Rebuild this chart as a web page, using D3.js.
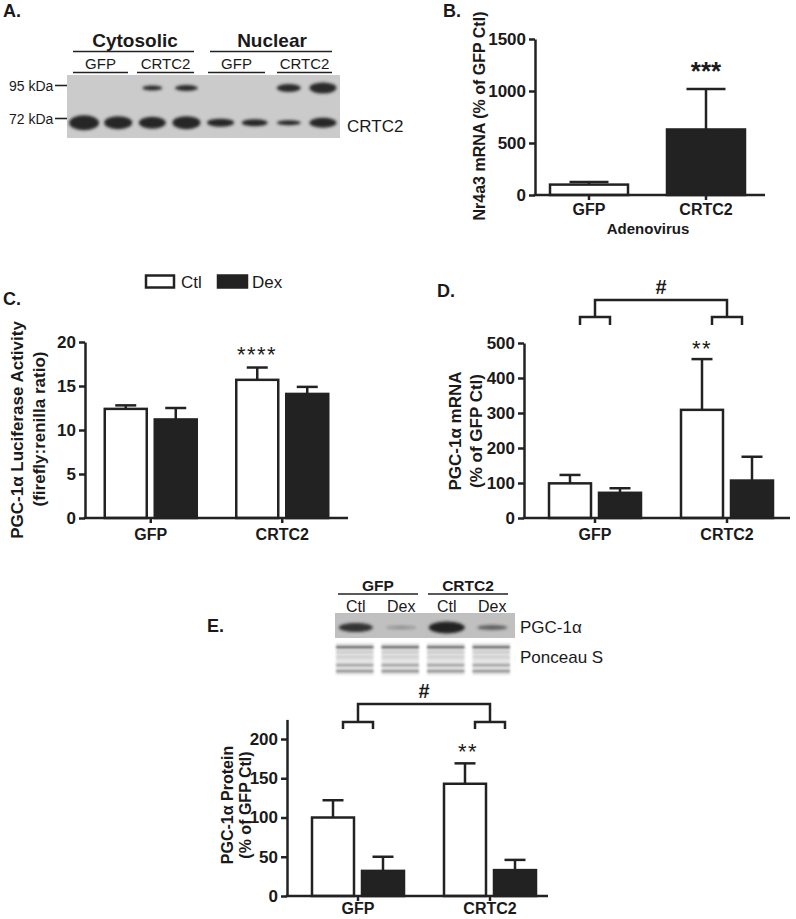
<!DOCTYPE html>
<html><head><meta charset="utf-8">
<script src="https://cdn.jsdelivr.net/npm/d3@7"></script>
<style>body{margin:0;background:#fff}svg{display:block}text{font-family:"Liberation Sans",Arial,sans-serif;fill:#1a1a1a}</style>
</head><body><svg id="c" width="796" height="919"></svg>
<script>
// ---------- data ----------
const groups = ["GFP", "CRTC2"];
const treatments = ["Ctl", "Dex"];
// Panel B: Nr4a3 mRNA (% of GFP Ctl)
const nr4a3Mean = [100, 630];
const nr4a3Sem = [25, 390];
const ticksB = [0, 500, 1000, 1500];
// Panel C: PGC-1a luciferase activity
const lucCtl = [12.4, 15.7], lucCtlSem = [0.4, 1.4];
const lucDex = [11.2, 14.1], lucDexSem = [1.3, 0.8];
const ticksC = [0, 5, 10, 15, 20];
// Panel D: PGC-1a mRNA
const mrnaCtl = [99, 309], mrnaCtlSem = [24, 145];
const mrnaDex = [72, 107], mrnaDexSem = [13, 68];
const ticksD = [0, 100, 200, 300, 400, 500];
// Panel E: PGC-1a protein
const protCtl = [100, 143], protCtlSem = [22, 26];
const protDex = [32, 33], protDexSem = [18, 13];
const ticksE = [0, 50, 100, 150, 200];
// Blot A (8 lanes): band thickness at 72 kDa and 95 kDa
const blotALanes = d3.range(8);
const band72 = [15, 13, 12, 13, 8, 7, 5, 10];
const band72w = [30, 28, 27, 28, 27, 26, 24, 27];
const band95 = [0, 0, 5, 6, 0, 0, 8, 11];
const band95w = [0, 0, 20, 23, 0, 0, 24, 27];
// Blot E (4 lanes)
const blotELanes = ["GFP Ctl", "GFP Dex", "CRTC2 Ctl", "CRTC2 Dex"];
const pgcBand = [9, 3, 12, 5];
const pgcBandW = [34, 30, 36, 30];
const pgcBandDark = [0.9, 0.35, 1, 0.6];
const ponceauRows = [5, 10, 15, 23, 29];
const ponceauDark = [0.8, 0.15, 0.12, 0.4, 0.5];

// ---------- setup ----------
const svg = d3.select("#c");
const INK = "#222";
const defs = svg.append("defs");
defs.append("filter").attr("id", "blur").attr("x", "-50%").attr("y", "-100%").attr("width", "200%").attr("height", "300%")
  .append("feGaussianBlur").attr("stdDeviation", 1.4);
defs.append("filter").attr("id", "blur2").attr("x", "-20%").attr("y", "-20%").attr("width", "140%").attr("height", "140%")
  .append("feGaussianBlur").attr("stdDeviation", 1.1);

function txt(x, y, s, size, opts = {}) {
  const t = svg.append("text").attr("x", x).attr("y", y).text(s)
    .attr("font-size", size).attr("font-weight", opts.bold ? "bold" : "normal")
    .attr("text-anchor", opts.anchor || "start");
  if (opts.ls) t.attr("letter-spacing", opts.ls);
  return t;
}
function line(x1, y1, x2, y2, w = 2.5) {
  svg.append("line").attr("x1", x1).attr("y1", y1).attr("x2", x2).attr("y2", y2)
    .attr("stroke", INK).attr("stroke-width", w);
}
function rotLabel(x, y, s, size) {
  svg.append("text").attr("transform", `translate(${x},${y}) rotate(-90)`)
    .attr("text-anchor", "middle").attr("font-size", size).attr("font-weight", "bold").text(s);
}

function yAxis(x0, yScale, ticks) {
  const g = svg.append("g").attr("transform", `translate(${x0},0)`)
    .call(d3.axisLeft(yScale).tickValues(ticks).tickFormat(d3.format("d")).tickSize(6).tickSizeOuter(0).tickPadding(3));
  g.select(".domain").attr("stroke", INK).attr("stroke-width", 2.5);
  g.selectAll(".tick line").attr("stroke", INK).attr("stroke-width", 2.5);
  g.selectAll(".tick text").attr("font-size", 17).attr("font-weight", "bold")
    .attr("font-family", '"Liberation Sans",Arial,sans-serif').attr("fill", "#1a1a1a");
}
function xAxis(x0, x1, y0, xScale, labelY) {
  line(x0 - 1.2, y0, x1, y0);
  groups.forEach(gname => {
    const cx = xScale(gname) + xScale.bandwidth() / 2;
    line(cx, y0, cx, y0 + 5);
    txt(cx, labelY, gname, 16, { bold: true, anchor: "middle" });
  });
}
function bar(x, w, yTop, yBase, filled) {
  svg.append("rect").attr("x", x).attr("y", yTop).attr("width", w).attr("height", yBase - yTop)
    .attr("fill", filled ? INK : "#fff").attr("stroke", INK).attr("stroke-width", 2.5);
}
function errBar(cx, yTop, yErr, capW) {
  line(cx, yTop, cx, yErr);
  line(cx - capW / 2, yErr, cx + capW / 2, yErr);
}

// ---------- Panel A: blot ----------
txt(3, 17, "A.", 18, { bold: true });
txt(135, 47, "Cytosolic", 19, { bold: true, anchor: "middle" });
txt(272, 47, "Nuclear", 19, { bold: true, anchor: "middle" });
line(73, 51.5, 194, 51.5, 1.6); line(210, 51.5, 332, 51.5, 1.6);
[["GFP", 73, 128], ["CRTC2", 137, 194], ["GFP", 208, 265], ["CRTC2", 277, 332]].forEach(d => {
  txt((d[1] + d[2]) / 2, 69, d[0], 15, { anchor: "middle" });
  line(d[1], 72.5, d[2], 72.5, 1.6);
});
const xA = d3.scaleBand().domain(blotALanes).range([67, 340]);
svg.append("rect").attr("x", 67).attr("y", 75).attr("width", 273).attr("height", 63).attr("fill", "#cbcbcb");
const gA = svg.append("g").attr("filter", "url(#blur)");
blotALanes.forEach(i => {
  const cx = xA(i) + xA.bandwidth() / 2;
  gA.append("ellipse").attr("cx", cx).attr("cy", 122.7).attr("rx", band72w[i] / 2).attr("ry", band72[i] / 2).attr("fill", "#262626");
  if (band95[i] > 0) gA.append("ellipse").attr("cx", cx).attr("cy", 88).attr("rx", band95w[i] / 2).attr("ry", band95[i] / 2).attr("fill", "#2a2a2a");
});
line(55, 85.5, 67, 85.5, 1.6); line(55, 118.5, 67, 118.5, 1.6);
txt(9, 91, "95 kDa", 14); txt(9, 124, "72 kDa", 14);
txt(347, 132, "CRTC2", 17);

// ---------- Panel B ----------
txt(443, 17, "B.", 18, { bold: true });
const yB = d3.scaleLinear().domain([0, 1500]).range([195, 39]);
const xB = d3.scaleBand().domain(groups).range([530.5, 764.5]).paddingInner(1 / 3).paddingOuter(1 / 6);
groups.forEach((gname, i) => {
  const x = xB(gname), w = xB.bandwidth();
  bar(x, w, yB(nr4a3Mean[i]), yB(0), i === 1);
  errBar(x + w / 2, yB(nr4a3Mean[i]), yB(nr4a3Mean[i] + nr4a3Sem[i]), w / 2);
});
yAxis(535, yB, ticksB);
xAxis(535, 765, 195, xB, 215);
txt(648, 234, "Adenovirus", 15, { bold: true, anchor: "middle" });
rotLabel(485, 116, "Nr4a3 mRNA (% of GFP Ctl)", 16);
txt(706, 80, "***", 26, { bold: true, anchor: "middle" });

// ---------- grouped panels ----------
function grouped(cfg) {
  const y = d3.scaleLinear().domain([0, cfg.ymax]).range([cfg.y0, cfg.yTop]);
  const x = d3.scaleBand().domain(groups).range(cfg.xr);
  const series = [[cfg.ctl, cfg.ctlSem], [cfg.dex, cfg.dexSem]];
  groups.forEach((gname, gi) => {
    const c = x(gname) + x.bandwidth() / 2;
    const inner = d3.scaleBand().domain(treatments).range([c - 46, c + 46]).paddingInner(0.16);
    treatments.forEach((t, ti) => {
      const v = series[ti][0][gi], s = series[ti][1][gi];
      const bx = inner(t), bw = inner.bandwidth();
      bar(bx, bw, y(v), y(0), ti === 1);
      errBar(bx + bw / 2, y(v), y(v + s), bw / 2);
    });
  });
  yAxis(cfg.x0, y, cfg.ticks);
  xAxis(cfg.x0, cfg.x1, cfg.y0, x, cfg.labelY);
  return { x, y };
}
function brackets(x, yTopLine, yMid, yLow, hashY) {
  const cs = groups.map(g => x(g) + x.bandwidth() / 2);
  svg.append("path").attr("d", `M${cs[0]},${yMid}V${yTopLine}H${cs[1]}V${yMid}`)
    .attr("fill", "none").attr("stroke", INK).attr("stroke-width", 2.5);
  cs.forEach(c => svg.append("path").attr("d", `M${c - 15},${yLow}V${yMid}H${c + 15}V${yLow}`)
    .attr("fill", "none").attr("stroke", INK).attr("stroke-width", 2.5));
  txt((cs[0] + cs[1]) / 2, hashY, "#", 20, { bold: true, anchor: "middle" });
}

// Panel C
txt(3, 305, "C.", 18, { bold: true });
svg.append("rect").attr("x", 146).attr("y", 275.5).attr("width", 28).attr("height", 12).attr("fill", "#fff").attr("stroke", INK).attr("stroke-width", 2.5);
svg.append("rect").attr("x", 218).attr("y", 275.5).attr("width", 29).attr("height", 12).attr("fill", INK).attr("stroke", INK).attr("stroke-width", 2.5);
txt(181, 288, "Ctl", 17); txt(252, 288, "Dex", 17);
grouped({ x0: 85, x1: 348, xr: [85, 348], y0: 518, yTop: 342, ymax: 20, ticks: ticksC,
  ctl: lucCtl, ctlSem: lucCtlSem, dex: lucDex, dexSem: lucDexSem, labelY: 540 });
rotLabel(23, 430, "PGC-1α Luciferase Activity", 17);
rotLabel(45, 429, "(firefly:renilla ratio)", 17);
txt(257, 362, "****", 22, { anchor: "middle", ls: 1.5 });

// Panel D
txt(437, 297, "D.", 18, { bold: true });
const pD = grouped({ x0: 524, x1: 790, xr: [529, 793], y0: 518, yTop: 343, ymax: 500, ticks: ticksD,
  ctl: mrnaCtl, ctlSem: mrnaCtlSem, dex: mrnaDex, dexSem: mrnaDexSem, labelY: 540 });
brackets(pD.x, 300, 317, 325, 294);
rotLabel(461, 431, "PGC-1α mRNA", 17);
rotLabel(482, 431, "(% of GFP Ctl)", 17);
txt(702, 356, "**", 22, { anchor: "middle", ls: 1.5 });

// ---------- Panel E ----------
txt(207, 632, "E.", 18, { bold: true });
txt(378, 591, "GFP", 15.5, { bold: true, anchor: "middle" });
txt(468, 591, "CRTC2", 15.5, { bold: true, anchor: "middle" });
line(338, 594, 418, 594, 1.6); line(428, 594, 508, 594, 1.6);
const xE = d3.scaleBand().domain(blotELanes).range([333, 515]);
blotELanes.forEach((l, i) => {
  const cx = xE(l) + xE.bandwidth() / 2;
  txt(cx, 612, l.split(" ")[1], 16, { anchor: "middle" });
});
svg.append("rect").attr("x", 335).attr("y", 613).attr("width", 180).attr("height", 25).attr("fill", "#c0c0c0");
const gE = svg.append("g").attr("filter", "url(#blur)");
blotELanes.forEach((l, i) => {
  const cx = xE(l) + xE.bandwidth() / 2;
  gE.append("ellipse").attr("cx", cx).attr("cy", 627.5).attr("rx", pgcBandW[i] / 2).attr("ry", pgcBand[i] / 2)
    .attr("fill", "#222").attr("opacity", pgcBandDark[i]);
});
const gP = svg.append("g").attr("filter", "url(#blur2)");
blotELanes.forEach((l, i) => {
  const x = xE(l) + 3, w = xE.bandwidth() - 8;
  gP.append("rect").attr("x", x).attr("y", 643).attr("width", w).attr("height", 32).attr("fill", "#e4e4e4");
  ponceauRows.forEach((r, j) => {
    gP.append("rect").attr("x", x).attr("y", 642 + r - 1.2).attr("width", w).attr("height", 2.6)
      .attr("fill", "#333").attr("opacity", ponceauDark[j]);
  });
});
txt(520, 633, "PGC-1α", 17);
txt(520, 663, "Ponceau S", 17);

const pE = grouped({ x0: 287, x1: 548, xr: [292, 556], y0: 896, yTop: 719.4, ymax: 225, ticks: ticksE,
  ctl: protCtl, ctlSem: protCtlSem, dex: protDex, dexSem: protDexSem, labelY: 914 });
brackets(pE.x, 704, 722, 729, 698);
rotLabel(233, 805, "PGC-1α Protein", 16);
rotLabel(251, 805, "(% of GFP Ctl)", 16);
txt(468, 759, "**", 22, { anchor: "middle", ls: 1.5 });
</script></body></html>
